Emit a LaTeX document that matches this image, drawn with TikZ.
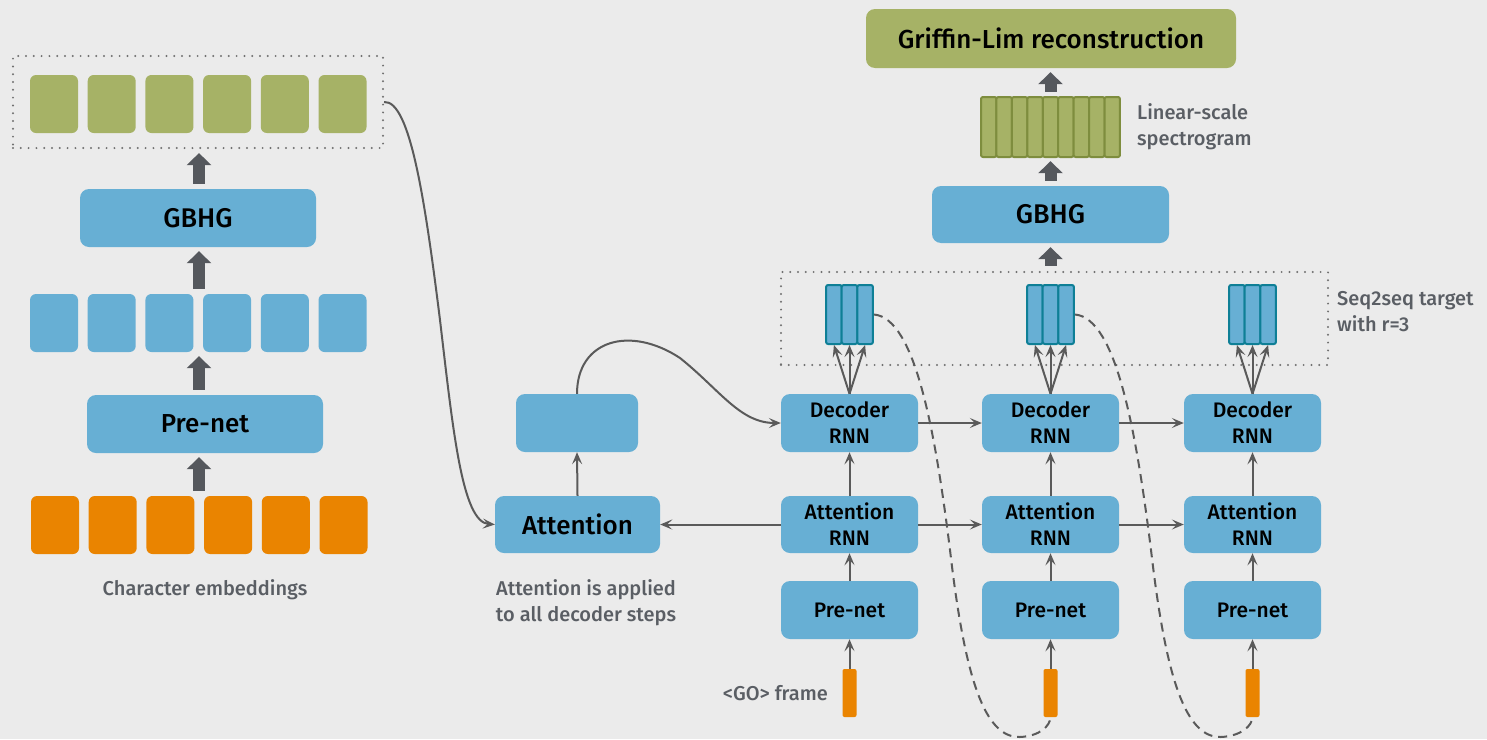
\documentclass[tikz,border=0pt]{standalone}
\usepackage{fontspec}
\setmainfont{Fira Sans}
\newfontfamily\medfont{Fira Sans Medium}
\newfontfamily\lblfont{Fira Sans Medium}
\usetikzlibrary{arrows.meta,calc}
\definecolor{bg}{HTML}{EBEBEB}
\definecolor{bluebox}{HTML}{67AFD4}
\definecolor{greenbox}{HTML}{A6B266}
\definecolor{greenedge}{HTML}{7E8D3E}
\definecolor{orangebox}{HTML}{EA8400}
\definecolor{tealedge}{HTML}{0E7F96}
\definecolor{darkarrow}{HTML}{55585D}
\definecolor{thinline}{HTML}{5A5A5A}
\definecolor{labelgrey}{HTML}{5A5E64}
\definecolor{dotgrey}{HTML}{707070}
\begin{document}
\begin{tikzpicture}[x=1pt,y=-1pt,
  blk/.style={fill=bluebox, rounded corners=9pt, inner sep=0pt, text=black, font=\medfont},
  sq/.style={rounded corners=6pt, minimum width=48pt, minimum height=58pt, inner sep=0pt},
  bar/.style={rounded corners=2pt, minimum width=15.6pt, minimum height=59pt, inner sep=0pt, fill=bluebox, draw=tealedge, line width=2pt},
  specbar/.style={rounded corners=2pt, minimum width=15.44pt, minimum height=60pt, inner sep=0pt, fill=greenbox, draw=greenedge, line width=2pt},
  gobar/.style={rounded corners=2pt, minimum width=14pt, minimum height=48pt, inner sep=0pt, fill=orangebox},
  dotbox/.style={draw=dotgrey, line width=2.2pt, dash pattern=on 0pt off 7.8pt, line cap=round, inner sep=0pt},
  barrow/.style={draw=darkarrow, line width=12pt, -{Triangle[length=12pt,width=24pt]}, shorten <=5pt, shorten >=4pt},
  conn/.style={draw=thinline, line width=2pt, -{Stealth[length=12pt,width=10pt,inset=5pt]}},
  dashc/.style={draw=thinline, line width=2pt, dash pattern=on 9pt off 6pt},
  lbl/.style={text=labelgrey, font=\lblfont\fontsize{20}{26}\selectfont, inner sep=0pt}
]
\path[fill=bg, use as bounding box] (0,0) rectangle (1487,739);

% ---------------- left encoder ----------------
\coordinate (xl) at (199,0);
\node[dotbox, minimum width=370pt, minimum height=92pt] (dotL) at (198,102) {};
\foreach \k in {1,...,6} {
  \node[sq, fill=greenbox] (g\k) at ({54+57.7*(\k-1)},104) {};
  \node[sq, fill=bluebox] (b\k) at ({54+57.7*(\k-1)},323) {};
  \node[sq, fill=orangebox] (o\k) at ({55+57.7*(\k-1)},525) {};
}
\node[blk, minimum width=236pt, minimum height=58pt, font=\medfont\fontsize{27}{30}\selectfont] (gbhgL) at (198,218) {GBHG};
\node[blk, minimum width=236pt, minimum height=58pt, font=\medfont\fontsize{26}{30}\selectfont] (preL) at (205,424) {Pre-net};
\node[lbl] (charlbl) at (205,590) {Character embeddings};

\draw[barrow] (gbhgL.north -| xl) -- (dotL.south -| xl);
\draw[barrow] (b1.north -| xl) -- (gbhgL.south -| xl);
\draw[barrow] (preL.north -| xl) -- (b1.south -| xl);
\draw[barrow] (o1.north -| xl) -- (preL.south -| xl);

% ---------------- attention ----------------
\node[blk, minimum width=165pt, minimum height=57pt, font=\medfont\fontsize{26}{30}\selectfont] (att) at (577.5,524.5) {Attention};
\node[blk, minimum width=122pt, minimum height=58pt] (ctx) at (577,423) {};
\node[lbl, align=center] (attlbl) at (586,603) {Attention is applied\\to all decoder steps};

\draw[conn] (dotL.east) .. controls (410,100) and (425,200) .. (440,320) .. controls (453,430) and (462,522) .. (att.west);
\draw[conn] (att.north) -- (ctx.south);

% ---------------- decoder columns ----------------
\node[dotbox, minimum width=547pt, minimum height=93pt] (dotR) at (1054.5,318.5) {};
\node[lbl, align=left, anchor=west] (seqlbl) at (1337,312) {Seq2seq target\\with r=3};

\foreach \i/\cx in {1/849.5, 2/1050.5, 3/1252.5} {
  \node[blk, minimum width=137pt, minimum height=58pt, align=center, font=\medfont\fontsize{21}{26}\selectfont] (dec\i) at (\cx,423) {Decoder\\RNN};
  \node[blk, minimum width=137pt, minimum height=57pt, align=center, font=\medfont\fontsize{21}{26}\selectfont] (arnn\i) at (\cx,524.5) {Attention\\RNN};
  \node[blk, minimum width=137pt, minimum height=58pt, font=\medfont\fontsize{21}{26}\selectfont] (pre\i) at (\cx,610) {Pre-net};
  \node[gobar] (go\i) at (\cx,693) {};
  \node[bar] (fr\i a) at (\cx-15.6,314.5) {};
  \node[bar] (fr\i b) at (\cx,314.5) {};
  \node[bar] (fr\i c) at (\cx+15.6,314.5) {};
  \draw[conn] (go\i.north) -- (pre\i.south);
  \draw[conn] (pre\i.north) -- (arnn\i.south);
  \draw[conn] (arnn\i.north) -- (dec\i.south);
  \draw[conn] (dec\i.north) -- (fr\i a.south);
  \draw[conn] (dec\i.north) -- (fr\i b.south);
  \draw[conn] (dec\i.north) -- (fr\i c.south);
}
\node[lbl, anchor=east] (golbl) at (828,693) {<GO> frame};

\draw[conn] (dec1.east) -- (dec2.west);
\draw[conn] (dec2.east) -- (dec3.west);
\draw[conn] (arnn1.east) -- (arnn2.west);
\draw[conn] (arnn2.east) -- (arnn3.west);
\draw[conn] (arnn1.west) -- (att.east);
\draw[conn] (ctx.north) .. controls (577,340) and (630,325) .. (680,358) .. controls (720,390) and (740,423) .. (dec1.west);

\draw[dashc] (fr1c.east) .. controls (915,318) and (935,430) .. (950,550) .. controls (965,680) and (985,738) .. (1020,737) .. controls (1040,736) and (1050,726) .. (go2.south);
\draw[dashc] (fr2c.east) .. controls (1116,318) and (1136,430) .. (1151,550) .. controls (1166,680) and (1186,738) .. (1221,737) .. controls (1241,736) and (1252,726) .. (go3.south);

% ---------------- post-processing ----------------
\node[blk, minimum width=237pt, minimum height=57pt, font=\medfont\fontsize{27}{30}\selectfont] (gbhgR) at (1050.5,214.5) {GBHG};
\node[inner sep=0pt, minimum width=139pt, minimum height=60pt] (spec) at (1050.5,127) {};
\foreach \k in {1,...,9} {
  \node[specbar] (sp\k) at ({981+15.44*(\k-0.5)},127) {};
}
\node[blk, fill=greenbox, minimum width=370pt, minimum height=59pt, font=\medfont\fontsize{26}{30}\selectfont] (gl) at (1051,38.5) {Griffin-Lim reconstruction};
\node[lbl, align=left, anchor=west] (linlbl) at (1137,127) {Linear-scale\\spectrogram};

\draw[barrow] (dotR.north -| gbhgR.center) -- (gbhgR.south);
\draw[barrow] (gbhgR.north) -- (spec.south -| gbhgR.center);
\draw[barrow] (spec.north -| gbhgR.center) -- (gl.south -| gbhgR.center);
\end{tikzpicture}
\end{document}
